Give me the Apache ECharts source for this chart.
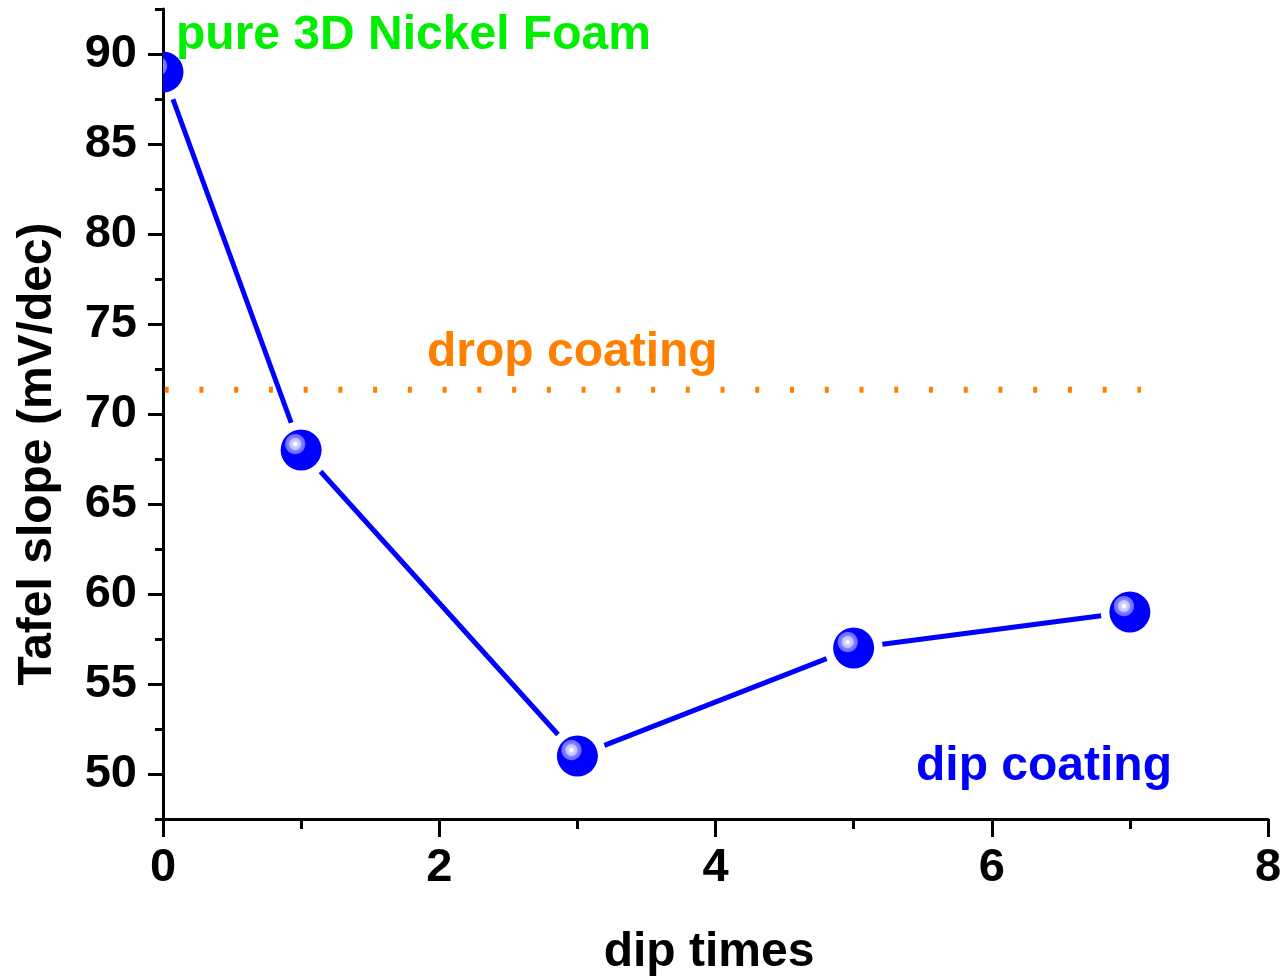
<!DOCTYPE html>
<html>
<head>
<meta charset="utf-8">
<script src="https://cdn.jsdelivr.net/npm/echarts@6/dist/echarts.min.js"></script>
<style>
  html, body { margin: 0; padding: 0; background: #fff; }
  #chart { width: 1286px; height: 980px; }
</style>
</head>
<body>
<div id="chart"></div>
<script>
// Tafel slope versus number of dip-coating cycles
const dipTimes = [0, 1, 3, 5, 7];
const tafelSlope = [89, 68, 51, 57, 59];

// Reference level for the drop-coated electrode
const dropCoatingSlope = 71.35;
const dropCoatingSpan = [0, 7.08];

const xTicks = [0, 2, 4, 6, 8];
const yTicks = [50, 55, 60, 65, 70, 75, 80, 85, 90];

const FONT = '"Liberation Sans", Arial, sans-serif';
const BLUE = '#0000ff';
const ORANGE = '#ff8000';
const GREEN = '#00ee00';

const chart = echarts.init(document.getElementById('chart'), null, { renderer: 'canvas' });

const sphereFill = {
  type: 'radial', x: 0.355, y: 0.355, r: 0.26,
  colorStops: [
    { offset: 0.0, color: '#ffffff' },
    { offset: 0.14, color: '#ffffff' },
    { offset: 0.26, color: '#d0d0ff' },
    { offset: 0.52, color: '#c0c0ff' },
    { offset: 0.6, color: '#8484ff' },
    { offset: 0.9, color: '#6a6aff' },
    { offset: 1.0, color: BLUE }
  ]
};

const R = 20.5;   // sphere radius
const GAP = 29;   // distance from sphere centre where the connecting line stops

function renderPoint(params, api) {
  const i = params.dataIndex;
  const c = api.coord([dipTimes[i], tafelSlope[i]]);
  const children = [];
  if (i > 0) {
    const p = api.coord([dipTimes[i - 1], tafelSlope[i - 1]]);
    const dx = c[0] - p[0], dy = c[1] - p[1];
    const len = Math.sqrt(dx * dx + dy * dy);
    const ux = dx / len, uy = dy / len;
    children.push({
      type: 'line',
      shape: { x1: p[0] + ux * GAP, y1: p[1] + uy * GAP, x2: c[0] - ux * GAP, y2: c[1] - uy * GAP },
      style: { stroke: BLUE, lineWidth: 5, lineCap: 'butt' }
    });
  }
  children.push({
    type: 'circle',
    shape: { cx: c[0], cy: c[1], r: R },
    style: { fill: sphereFill }
  });
  return { type: 'group', children: children };
}

const axisLabelStyle = { color: '#000', fontFamily: FONT, fontWeight: 'bold', fontSize: 47 };
const noteFont = 'bold 48px ' + FONT;

chart.setOption({
  animation: false,
  backgroundColor: '#fff',
  grid: { left: 163, right: 18, top: 9, bottom: 161 },
  xAxis: {
    type: 'value', min: 0, max: 8, interval: 2,
    axisLine: { show: true, lineStyle: { color: '#000', width: 3 } },
    axisTick: { show: true, inside: false, length: 18, lineStyle: { color: '#000', width: 3 } },
    minorTick: { show: true, splitNumber: 2, length: 10, lineStyle: { color: '#000', width: 3 } },
    axisLabel: Object.assign({ margin: 26, customValues: xTicks }, axisLabelStyle),
    splitLine: { show: false }
  },
  yAxis: [
    {
      type: 'value', min: 47.5, max: 92.5, interval: 2.5,
      axisLine: { show: true, lineStyle: { color: '#000', width: 3 } },
      axisTick: { show: true, inside: false, length: 15, customValues: yTicks, lineStyle: { color: '#000', width: 3 } },
      axisLabel: Object.assign({ margin: 26, customValues: yTicks }, axisLabelStyle),
      splitLine: { show: false }
    },
    {
      type: 'value', min: 47.5, max: 92.5, interval: 2.5, position: 'left',
      axisLine: { show: false },
      axisTick: { show: true, inside: false, length: 8, lineStyle: { color: '#000', width: 3 } },
      axisLabel: { show: false },
      splitLine: { show: false }
    }
  ],
  graphic: [
    {
      type: 'text', x: 176, y: 36,
      style: { text: 'pure 3D Nickel Foam', fill: GREEN, font: noteFont, align: 'left', verticalAlign: 'middle' }
    },
    {
      type: 'text', x: 427, y: 353,
      style: { text: 'drop coating', fill: ORANGE, font: noteFont, align: 'left', verticalAlign: 'middle' }
    },
    {
      type: 'text', x: 916, y: 767,
      style: { text: 'dip coating', fill: BLUE, font: noteFont, align: 'left', verticalAlign: 'middle' }
    },
    {
      type: 'text', x: 709, y: 953,
      style: { text: 'dip times', fill: '#000', font: noteFont, align: 'center', verticalAlign: 'middle' }
    },
    {
      type: 'text', x: 38, y: 454, rotation: Math.PI / 2,
      style: { text: 'Tafel slope (mV/dec)', fill: '#000', font: noteFont, align: 'center', verticalAlign: 'middle' }
    }
  ],
  series: [
    {
      type: 'line',
      data: dropCoatingSpan.map(x => [x, dropCoatingSlope]),
      symbol: 'none',
      lineStyle: { color: ORANGE, width: 6, type: [4, 30.74], dashOffset: -1.7, cap: 'butt' },
      z: 2
    },
    {
      type: 'custom',
      clip: true,
      data: dipTimes.map((x, i) => [x, tafelSlope[i]]),
      renderItem: renderPoint,
      z: 3
    }
  ]
});
</script>
</body>
</html>
